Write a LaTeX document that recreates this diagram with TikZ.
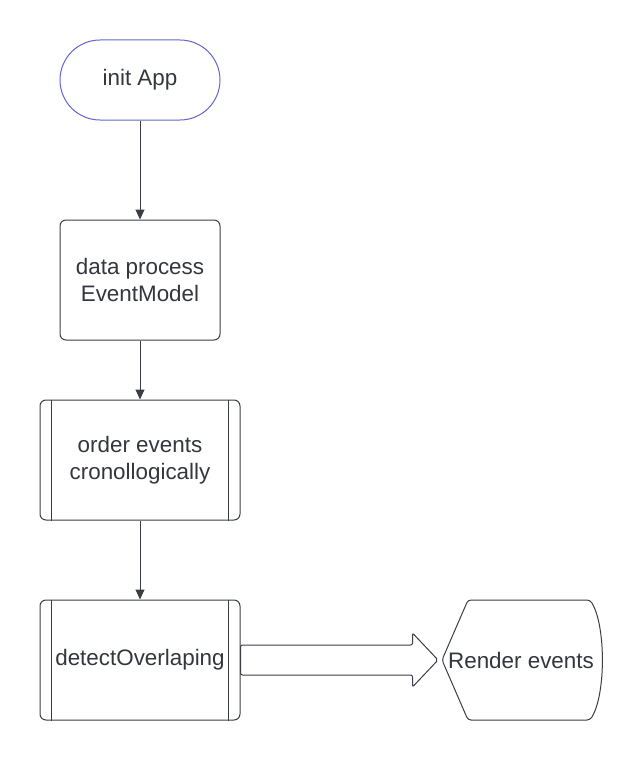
\documentclass[tikz,border=0pt]{standalone}
\usepackage{fontspec}
\setmainfont{Liberation Sans}
\usetikzlibrary{calc}
\usetikzlibrary{arrows.meta}
\definecolor{linegray}{HTML}{3A3D44}
\definecolor{textgray}{HTML}{33363C}
\definecolor{startblue}{HTML}{6464CC}
\tikzset{
  flowtext/.style={text=textgray, font=\fontsize{22.4}{26.5}\selectfont, align=center},
  startbox/.style={flowtext, draw=startblue, rounded corners=40pt, minimum width=160pt, minimum height=80pt, inner sep=0pt},
  procbox/.style={flowtext, draw=linegray, rounded corners=6pt, minimum width=160pt, minimum height=120pt, inner sep=0pt},
  subbox/.style={procbox, minimum width=200pt},
}

\begin{document}
\begin{tikzpicture} [x=1pt, y=-1pt, line width=1pt]
\useasboundingbox (0,0) rectangle (640,760);
\node[startbox] (init) at (140,80) {init App};
\node[procbox] (data) at (140,280) {data process\\EventModel};
\node[subbox] (order) at (140,460) {order events\\cronollogically};
\node[subbox] (detect) at (140,660) {detectOverlaping};
\node[flowtext] (render) at (521,660) {Render events};
\coordinate (renderin) at (442,660);
\foreach \n in {order,detect} {
  \draw[linegray] ($(\n.north west)+(12,0)$)--($(\n.south west)+(12,0)$);
  \draw[linegray] ($(\n.north east)+(-12,0)$)--($(\n.south east)+(-12,0)$);
}
\draw[linegray, ->, >={Stealth[inset=0pt, length=10pt, width=9pt]}] (init)--(data);
\draw[linegray, ->, >={Stealth[inset=0pt, length=10pt, width=9pt]}] (data)--(order);
\draw[linegray, ->, >={Stealth[inset=0pt, length=10pt, width=9pt]}] (order)--(detect);
% display shape round the last text
\draw[linegray, rounded corners=3pt] (renderin)--(468,600)--(590,600) .. controls (606,625) and (606,695) .. (590,720)--(468,720)--cycle;
% wide arrow into the display
\draw[linegray, rounded corners=2pt] ($(detect.east)+(0,-15)$)--($(detect.east)+(172,-15)$)--($(detect.east)+(172,-27)$)
  --($(renderin)+(-4,0)$)--($(detect.east)+(172,27)$)--($(detect.east)+(172,15)$)--($(detect.east)+(0,15)$)--cycle;
\end{tikzpicture}
\end{document}
